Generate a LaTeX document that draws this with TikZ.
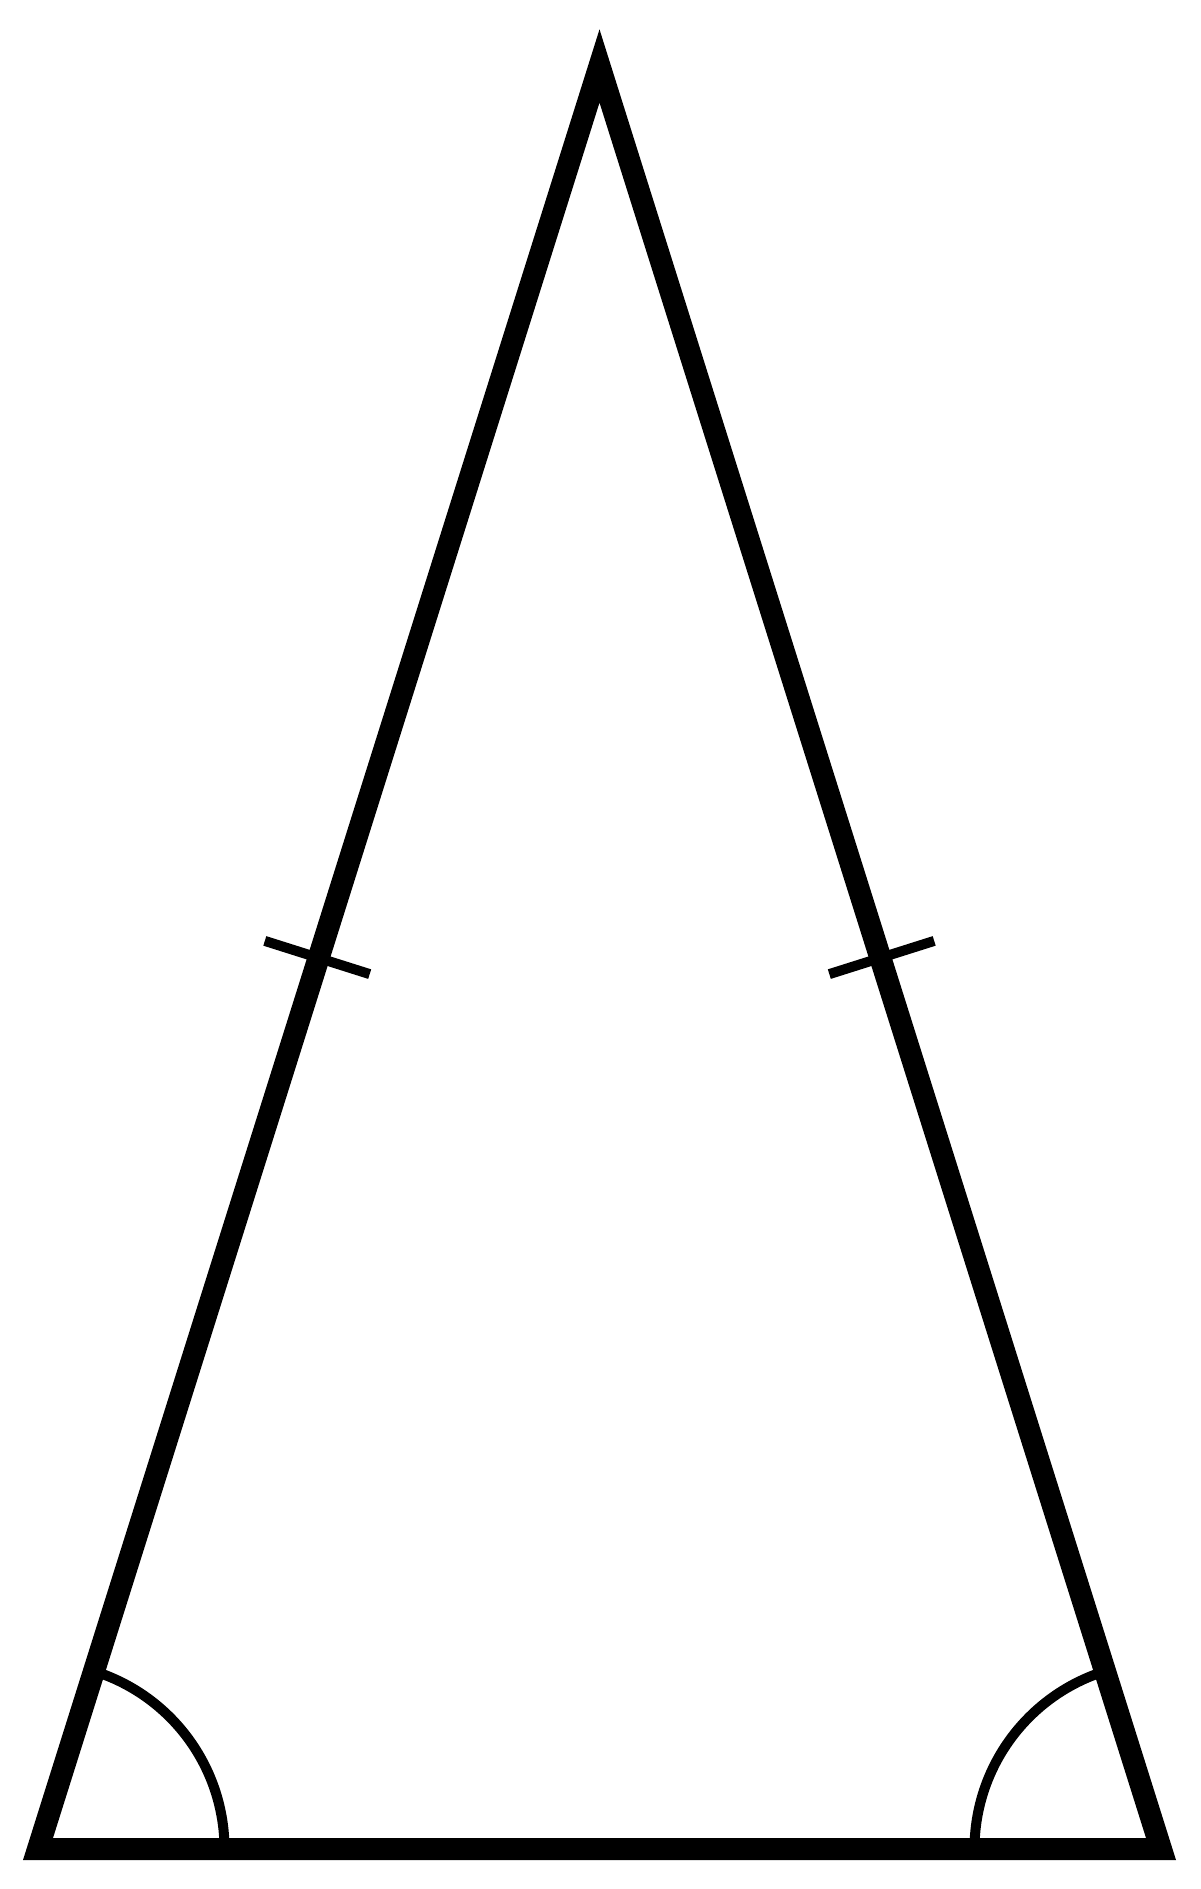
\documentclass[tikz,border=0pt]{standalone}
\usetikzlibrary{calc}
\begin{document}
\begin{tikzpicture}[x=1pt,y=-1pt,
  sideline/.style={line width=22pt, line join=miter},
  markline/.style={line width=10pt}]
\useasboundingbox (0,0) rectangle (1200,1889);
\coordinate (A) at (38,1849);
\coordinate (B) at (1161,1849);
\coordinate (C) at (599.5,66);
\draw[sideline] (A) -- (C) -- (B) -- cycle;
% angle arcs
\draw[markline] (A) ++(186.5pt,0pt) arc[start angle=0,end angle=72.52,radius=186.5pt];
\draw[markline] (B) ++(-186.5pt,0pt) arc[start angle=180,end angle=107.48,radius=186.5pt];
% equal-side ticks
\coordinate (M1) at ($(A)!0.5!(C)+(-1.5,0)$);
\coordinate (M2) at ($(B)!0.5!(C)+(1.5,0)$);
\draw[markline] ($(M1)!55pt!90:(C)$) -- ($(M1)!55pt!-90:(C)$);
\draw[markline] ($(M2)!55pt!90:(C)$) -- ($(M2)!55pt!-90:(C)$);
\end{tikzpicture}
\end{document}
